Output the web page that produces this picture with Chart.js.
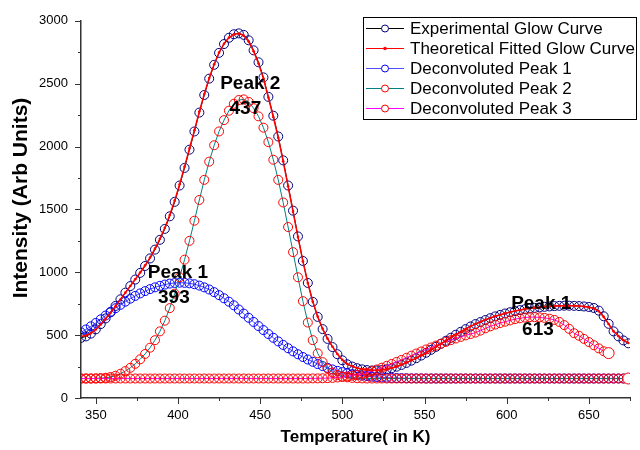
<html>
  <head>
    <title>glow curve deconvolution</title>
    <style>
      body {
        margin: 0;
        padding: 0;
        background: #fff;
      }
      canvas#canvas {
        display: block;
      }
    </style>
    <script src="https://cdn.jsdelivr.net/npm/chart.js@4.4.1/dist/chart.umd.min.js"></script>
  </head>
  <body>
    <canvas id="canvas" width="640" height="450"></canvas>
    <script>
      // temperature grid (K)
      const temps = [
        341, 344, 347, 350, 353, 356, 359, 362, 365, 368,
        371, 374, 377, 380, 383, 386, 389, 392, 395, 398,
        401, 404, 407, 410, 413, 416, 419, 422, 425, 428,
        431, 434, 437, 440, 443, 446, 449, 452, 455, 458,
        461, 464, 467, 470, 473, 476, 479, 482, 485, 488,
        491, 494, 497, 500, 503, 506, 509, 512, 515, 518,
        521, 524, 527, 530, 533, 536, 539, 542, 545, 548,
        551, 554, 557, 560, 563, 566, 569, 572, 575, 578,
        581, 584, 587, 590, 593, 596, 599, 602, 605, 608,
        611, 614, 617, 620, 623, 626, 629, 632, 635, 638,
        641, 644, 647, 650, 653, 656, 659, 662, 665, 668,
        671, 674,
      ];
      const experimental = [
        478, 490, 512, 546, 588, 633, 681, 732, 785, 838,
        890, 942, 995, 1050, 1110, 1180, 1258, 1345, 1445, 1560,
        1690, 1830, 1975, 2120, 2270, 2410, 2540, 2650, 2745, 2815,
        2865, 2893, 2900, 2888, 2845, 2765, 2670, 2550, 2395, 2245,
        2080, 1890, 1690, 1490, 1285, 1090, 915, 765, 645, 548,
        470, 405, 348, 300, 268, 250, 237, 228, 222, 219,
        219, 222, 228, 237, 249, 263, 279, 297, 317, 338,
        360, 383, 407, 431, 455, 479, 503, 526, 548, 569,
        588, 604, 620, 635, 649, 661, 672, 682, 691, 699,
        706, 712, 717, 721, 725, 728, 731, 733, 734, 734,
        733, 731, 728, 724, 716, 695, 650, 590, 530, 490,
        458, 435,
      ];
      const fitted = [
        490, 498, 515, 545, 585, 630, 678, 730, 784, 838,
        891, 944, 998, 1055, 1117, 1188, 1266, 1354, 1455, 1570,
        1700, 1840, 1985, 2130, 2278, 2418, 2545, 2655, 2748, 2818,
        2866, 2892, 2898, 2882, 2835, 2758, 2660, 2540, 2390, 2235,
        2070, 1882, 1684, 1482, 1280, 1088, 915, 768, 648, 550,
        472, 408, 350, 303, 271, 252, 239, 230, 224, 221,
        221, 224, 230, 239, 251, 265, 281, 299, 318, 339,
        361, 384, 408, 432, 456, 480, 504, 527, 549, 570,
        589, 606, 622, 637, 650, 662, 673, 683, 692, 700,
        707, 713, 718, 722, 726, 729, 731, 733, 734, 734,
        733, 731, 727, 722, 712, 690, 645, 588, 530, 492,
        460, 437,
      ];
      const peak1 = [
        522, 545, 570, 597, 626, 656, 686, 714, 741, 766,
        790, 812, 832, 850, 866, 880, 892, 902, 910, 915,
        917, 916, 912, 905, 894, 880, 863, 842, 818, 793,
        766, 737, 704, 671, 638, 605, 572, 540, 509, 479,
        450, 422, 396, 371, 348, 326, 306, 288, 270, 254,
        240, 227, 216, 206, 197, 190, 184, 178, 174, 170,
        167, 164, 162, 160, 159, 158, 157, 156, 156, 156,
        155, 155, 155, 155, 155, 155, 155, 155, 155, 155,
        155, 155, 155, 155, 155, 155, 155, 155, 155, 155,
        155, 155, 155, 155, 155, 155, 155, 155, 155, 155,
        155, 155, 155, 155, 155, 155, 155, 155, 155, 155,
        155, 155,
      ];
      const peak2 = [
        155, 155, 155, 156, 158, 161, 167, 177, 193, 214,
        240, 272, 308, 350, 400, 460, 530, 615, 715, 830,
        960, 1100, 1250, 1410, 1575, 1735, 1880, 2010, 2120, 2210,
        2285, 2340, 2370, 2375, 2355, 2305, 2240, 2150, 2035, 1895,
        1735, 1555, 1360, 1160, 960, 770, 600, 460, 355, 285,
        235, 203, 183, 171, 164, 160, 157, 156, 155, 155,
        155, 155, 155, 155, 155, 155, 155, 155, 155, 155,
        155, 155, 155, 155, 155, 155, 155, 155, 155, 155,
        155, 155, 155, 155, 155, 155, 155, 155, 155, 155,
        155, 155, 155, 155, 155, 155, 155, 155, 155, 155,
        155, 155, 155, 155, 155, 155, 155, 155, 155, 155,
        155, 155,
      ];
      // peak 3 stops at 662 K
      const peak3 = [
        155, 155, 155, 155, 155, 155, 155, 155, 155, 155,
        155, 155, 155, 155, 155, 155, 155, 155, 155, 155,
        155, 155, 155, 155, 155, 155, 155, 155, 155, 155,
        155, 155, 155, 155, 155, 155, 155, 155, 155, 155,
        155, 155, 155, 155, 155, 155, 155, 156, 156, 157,
        158, 160, 163, 167, 172, 178, 185, 193, 202, 214,
        227, 241, 256, 271, 287, 303, 320, 337, 354, 370,
        386, 402, 417, 432, 446, 460, 473, 486, 498, 509,
        520, 536, 554, 570, 584, 596, 607, 617, 627, 634,
        640, 643, 643, 641, 637, 631, 621, 605, 580, 550,
        515, 495, 470, 445, 420, 395, 372, 357,
      ];

      const xMajor = [350, 400, 450, 500, 550, 600, 650];
      const xMinor = [375, 425, 475, 525, 575, 625, 675];
      const yMajor = [0, 500, 1000, 1500, 2000, 2500, 3000];
      const yMinor = [250, 750, 1250, 1750, 2250, 2750];

      // label text, anchored at [temperature, intensity]
      const peakLabels = [
        ['Peak 2', 444, 2460],
        ['437', 441, 2262],
        ['Peak 1', 400, 952],
        ['393', 397.5, 754],
        ['Peak 1', 621, 706],
        ['613', 619, 500],
      ];

      const FONT = "'Liberation Sans', Arial, sans-serif";
      const R = 4.5;

      const toPoints = (vals) => vals.map((v, i) => ({ x: temps[i], y: v }));
      const lastBig = (n) => (ctx) => (ctx.dataIndex === n - 1 ? R + 1 : R);
      const lastFill = (n) => (ctx) => (ctx.dataIndex === n - 1 ? '#fff' : 'rgba(0,0,0,0)');

      const series = [
        {
          label: 'Experimental Glow Curve',
          data: toPoints(experimental),
          borderColor: '#000',
          borderWidth: 1,
          pointRadius: R,
          pointBorderColor: '#00007f',
          pointBackgroundColor: 'rgba(0,0,0,0)',
          pointBorderWidth: 1,
          order: 5,
        },
        {
          label: 'Theoretical Fitted Glow Curve',
          data: toPoints(fitted),
          borderColor: '#ff0000',
          borderWidth: 1.5,
          pointRadius: 1.3,
          pointBorderWidth: 0,
          pointBackgroundColor: '#ff0000',
          pointBorderColor: '#ff0000',
          order: 0,
        },
        {
          label: 'Deconvoluted Peak 1',
          data: toPoints(peak1),
          borderColor: '#4d4dff',
          borderWidth: 1,
          pointRadius: R,
          pointBorderColor: '#0000ff',
          pointBackgroundColor: 'rgba(0,0,0,0)',
          pointBorderWidth: 1,
          order: 3,
        },
        {
          label: 'Deconvoluted Peak 2',
          data: toPoints(peak2),
          borderColor: '#008080',
          borderWidth: 1,
          pointRadius: lastBig(peak2.length),
          pointBorderColor: '#ff0000',
          pointBackgroundColor: lastFill(peak2.length),
          pointBorderWidth: 1,
          order: 2,
        },
        {
          label: 'Deconvoluted Peak 3',
          data: toPoints(peak3),
          borderColor: '#ff00ff',
          borderWidth: 1,
          pointRadius: lastBig(peak3.length),
          pointBorderColor: '#ff0000',
          pointBackgroundColor: lastFill(peak3.length),
          pointBorderWidth: 1,
          order: 1,
        },
      ];

      const extras = {
        id: 'extras',
        afterDatasetsDraw(chart) {
          const { ctx, chartArea, scales } = chart;
          const x = scales.x;
          const y = scales.y;
          ctx.save();

          // tick marks, pointing out of the plot
          ctx.strokeStyle = '#333';
          ctx.lineWidth = 1;
          const tickX = (vals, len) => {
            vals.forEach((v) => {
              const px = Math.round(x.getPixelForValue(v)) + 0.5;
              ctx.beginPath();
              ctx.moveTo(px, chartArea.bottom);
              ctx.lineTo(px, chartArea.bottom + len);
              ctx.stroke();
            });
          };
          const tickY = (vals, len) => {
            vals.forEach((v) => {
              const py = Math.round(y.getPixelForValue(v)) + 0.5;
              ctx.beginPath();
              ctx.moveTo(chartArea.left, py);
              ctx.lineTo(chartArea.left - len, py);
              ctx.stroke();
            });
          };
          tickX(xMajor, 6);
          tickX(xMinor, 3);
          tickY(yMajor, 6);
          tickY(yMinor, 3);

          // peak labels
          ctx.fillStyle = '#000';
          ctx.font = 'bold 19px ' + FONT;
          ctx.textAlign = 'center';
          ctx.textBaseline = 'alphabetic';
          peakLabels.forEach(([t, tx, ty]) => {
            ctx.fillText(t, x.getPixelForValue(tx), y.getPixelForValue(ty));
          });

          // axis titles
          ctx.font = 'bold 17px ' + FONT;
          ctx.textBaseline = 'middle';
          ctx.fillText('Temperature( in K)', (chartArea.left + chartArea.right) / 2, 437);
          ctx.save();
          ctx.font = 'bold 21px ' + FONT;
          ctx.translate(21, 198);
          ctx.rotate(-Math.PI / 2);
          ctx.fillText('Intensity (Arb Units)', 0, 0);
          ctx.restore();

          // legend box
          ctx.strokeStyle = '#000';
          ctx.lineWidth = 1;
          ctx.fillStyle = '#fff';
          ctx.fillRect(363.5, 17.5, 273, 102);
          ctx.strokeRect(363.5, 17.5, 273, 102);
          ctx.font = '17px ' + FONT;
          ctx.textAlign = 'left';
          chart.data.datasets.forEach((ds, i) => {
            const cy = 28 + i * 20;
            ctx.strokeStyle = ds.borderColor;
            ctx.lineWidth = 1;
            ctx.beginPath();
            ctx.moveTo(366, cy + 0.5);
            ctx.lineTo(404, cy + 0.5);
            ctx.stroke();
            ctx.beginPath();
            if (i === 1) {
              ctx.fillStyle = ds.pointBackgroundColor;
              ctx.arc(385, cy + 0.5, 1.8, 0, Math.PI * 2);
              ctx.fill();
            } else {
              ctx.fillStyle = '#fff';
              ctx.strokeStyle = ds.pointBorderColor;
              ctx.arc(385, cy + 0.5, 3.5, 0, Math.PI * 2);
              ctx.fill();
              ctx.stroke();
            }
            ctx.fillStyle = '#000';
            ctx.fillText(ds.label, 410, cy + 1);
          });
          ctx.restore();
        },
      };

      new Chart(document.getElementById('canvas'), {
        type: 'line',
        data: { datasets: series },
        options: {
          responsive: false,
          animation: false,
          devicePixelRatio: 1,
          layout: { padding: { top: 20, right: 10, left: 0, bottom: 0 } },
          elements: { line: { tension: 0 } },
          plugins: {
            legend: { display: false },
            tooltip: { enabled: false },
          },
          scales: {
            x: {
              type: 'linear',
              min: 341,
              max: 675,
              grid: { display: false, drawTicks: false },
              border: { display: true, color: '#333', width: 1.5 },
              ticks: {
                color: '#000',
                font: { size: 13, family: FONT },
                padding: 10,
                callback: (v) => String(v),
              },
              afterBuildTicks: (s) => {
                s.ticks = xMajor.map((v) => ({ value: v }));
              },
              afterFit: (s) => {
                s.height = 52;
              },
            },
            y: {
              type: 'linear',
              min: 0,
              max: 3000,
              grid: { display: false, drawTicks: false },
              border: { display: true, color: '#333', width: 1.5 },
              ticks: {
                color: '#000',
                font: { size: 13, family: FONT },
                padding: 13,
                callback: (v) => String(v),
              },
              afterBuildTicks: (s) => {
                s.ticks = yMajor.map((v) => ({ value: v }));
              },
              afterFit: (s) => {
                s.width = 81;
              },
            },
          },
        },
        plugins: [extras],
      });
    </script>
  </body>
</html>
